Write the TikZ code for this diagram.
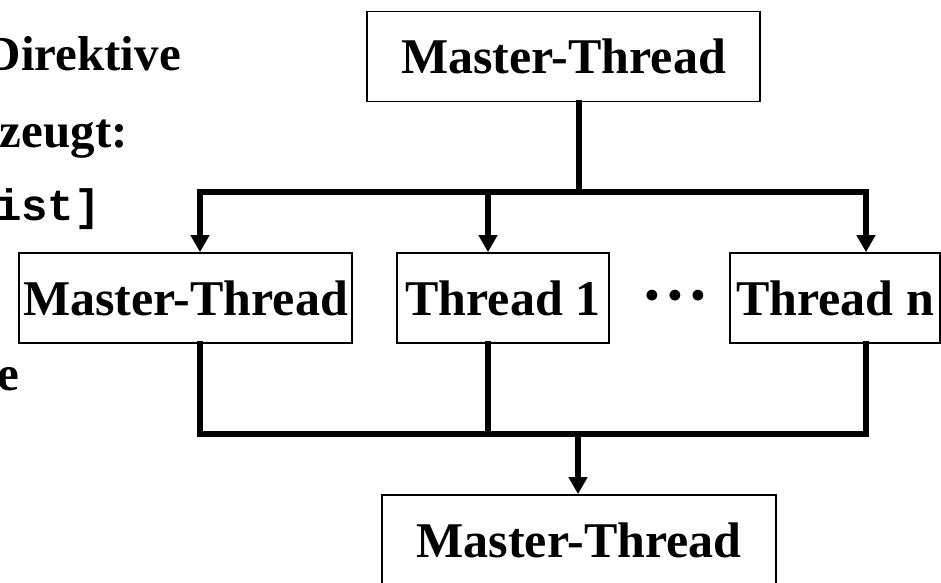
\documentclass[tikz,border=0pt]{standalone}
\usepackage{fontspec}
\setmainfont{Liberation Serif}
\setmonofont{Liberation Mono}
\usetikzlibrary{arrows.meta}

\def\boxh{90}
\def\busw{5.5pt}

\begin{document}
\begin{tikzpicture}[x=1pt,y=-1pt,
% Here are defined the boxes, the bus lines and the text fragments
thread/.style={
rectangle, draw=black, line width=1.7pt, inner sep=0,
minimum height=\boxh pt,
font=\fontsize{50}{54}\selectfont\bfseries },
bus/.style={
line width=\busw, line join=miter, line cap=rect },
tip/.style={
-{Triangle[width=18pt,length=17pt]}, line cap=butt },
fragment/.style={
anchor=base east, inner sep=0,
font=\fontsize{49}{52}\selectfont\bfseries },
codefrag/.style={
anchor=base east, inner sep=0,
font=\fontsize{44}{48}\selectfont\ttfamily\bfseries },
dots/.style={
anchor=base, inner sep=0,
font=\fontsize{45}{50}\selectfont },
]

\useasboundingbox (0,0) rectangle (941,582);
\clip (0,0) rectangle (941,582);

%%%%%%%%%%%%%%%%%%%%%%%%
%%% THE TEXT ON THE LEFT
%%%%%%%%%%%%%%%%%%%%%%%%
\node[fragment] (f1) at (181,70) {Direktive};
\node[fragment] (f2) at (128,147) {zeugt:};
\node[codefrag] (f3) at (101,220) {ist]};
\node[fragment] (f4) at (19,390) {e};

%%%%%%%%%%%%%%%%%%%%%%%%
%%% THE THREADS
%%%%%%%%%%%%%%%%%%%%%%%%

% the master on top
\node[thread, minimum width=393pt] (mt0) at (563.5,56.5) {Master-Thread};

% the team in the middle row
\node[thread, minimum width=333pt] (mt1) at (185.5,298) {Master-Thread};
\node[thread, minimum width=212pt] (t1) at (503,298) {Thread 1};
\node[dots] (dd) at (675.5,310) {•\hspace{7pt}•\hspace{7pt}•};
\node[thread, minimum width=210pt] (tn) at (835,298) {Thread n};

% the master again at the bottom
\node[thread, minimum width=394pt] (mt2) at (579,540) {Master-Thread};

%%%%%%%%%%%%%%%%%%%%%%%%
%%% FORK AND JOIN
%%%%%%%%%%%%%%%%%%%%%%%%
\coordinate (fork) at (579,192);
\coordinate (forkL) at (200,192);
\coordinate (fork1) at (488,192);
\coordinate (forkN) at (866,192);
\coordinate (join) at (578,434);
\coordinate (joinL) at (200,434);
\coordinate (join1) at (488,434);
\coordinate (joinN) at (866,434);

% fork
\draw[bus] (mt0.south -| fork) -- (fork);
\draw[bus,tip] (fork) -- (forkL) -- (mt1.north -| forkL);
\draw[bus,tip] (fork) -- (forkN) -- (tn.north -| forkN);
\draw[bus,tip] (fork1) -- (t1.north -| fork1);

% join
\draw[bus] (mt1.south -| joinL) -- (joinL) -- (joinN) -- (tn.south -| joinN);
\draw[bus] (t1.south -| join1) -- (join1);
\draw[bus,tip] (join) -- (mt2.north -| join);

\end{tikzpicture}
\end{document}
